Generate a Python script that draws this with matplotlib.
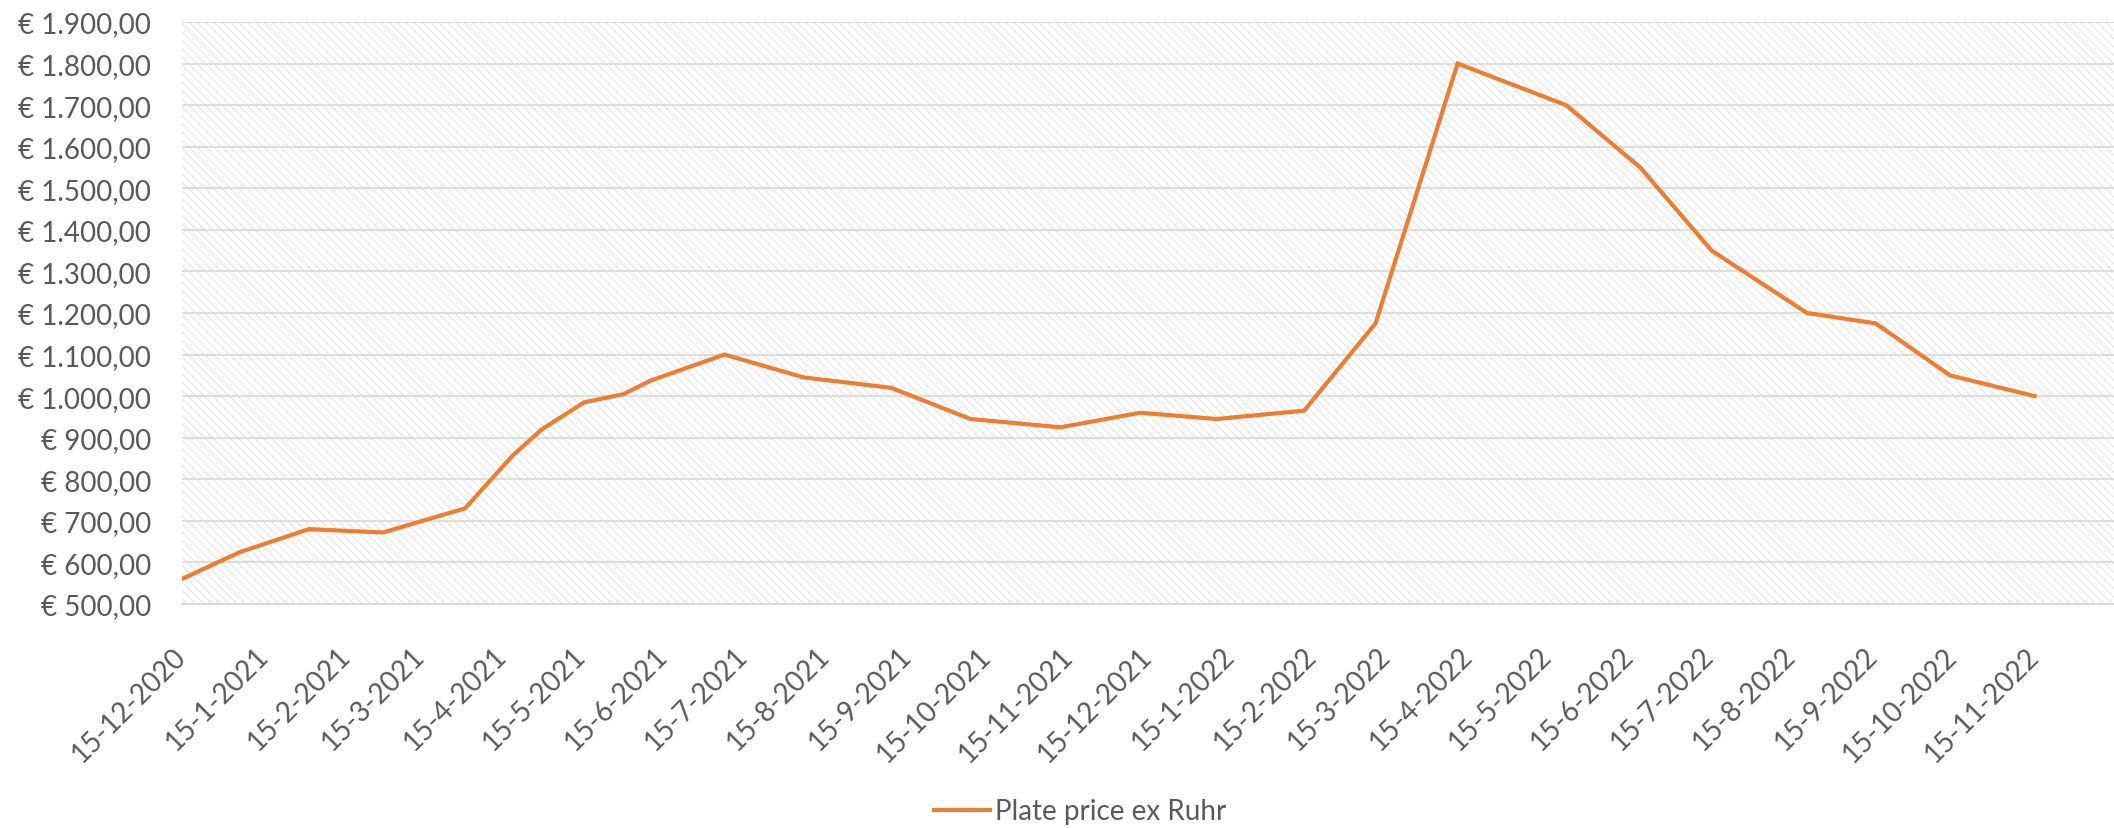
import matplotlib
matplotlib.use("Agg")
import matplotlib.pyplot as plt
from matplotlib.patches import Rectangle
from matplotlib.ticker import FuncFormatter
import pandas as pd

dates = ['2020-12-15', '2021-01-06', '2021-02-01', '2021-03-01', '2021-04-01',
         '2021-04-19', '2021-04-30', '2021-05-16', '2021-05-31', '2021-06-10',
         '2021-07-08', '2021-08-07', '2021-09-09', '2021-10-09', '2021-11-12',
         '2021-12-12', '2022-01-10', '2022-02-12', '2022-03-11', '2022-04-11',
         '2022-05-22', '2022-06-19', '2022-07-16', '2022-08-21', '2022-09-16',
         '2022-10-14', '2022-11-15']
prices = [560, 625, 680, 672, 730, 857, 920, 985, 1005, 1037,
          1100, 1045, 1020, 945, 925, 960, 945, 965, 1175, 1800,
          1700, 1550, 1350, 1200, 1175, 1050, 1000]
series_name = 'Plate price ex Ruhr'

tick_labels = ['15-12-2020', '15-1-2021', '15-2-2021', '15-3-2021', '15-4-2021',
               '15-5-2021', '15-6-2021', '15-7-2021', '15-8-2021', '15-9-2021',
               '15-10-2021', '15-11-2021', '15-12-2021', '15-1-2022', '15-2-2022',
               '15-3-2022', '15-4-2022', '15-5-2022', '15-6-2022', '15-7-2022',
               '15-8-2022', '15-9-2022', '15-10-2022', '15-11-2022']
y_ticks = [500, 600, 700, 800, 900, 1000, 1100, 1200, 1300, 1400,
           1500, 1600, 1700, 1800, 1900]

plt.rcParams['font.family'] = ['Lato', 'DejaVu Sans']
plt.rcParams['hatch.linewidth'] = 0.7
text_grey = '#595959'
grid_grey = '#d9d9d9'

x = pd.to_datetime(dates)
tick_pos = pd.to_datetime(tick_labels, format='%d-%m-%Y')

fig = plt.figure(figsize=(21.14, 8.29), dpi=100)
ax = fig.add_axes([0.086, 0.2702, 0.914, 0.7021])

# gearceerde achtergrond zoals in Excel
ax.add_patch(Rectangle((0, 0), 1, 1, transform=ax.transAxes, facecolor='white',
                       edgecolor='#e0e0e0', hatch='\\\\\\\\', linewidth=0, zorder=0))

ax.plot(x, prices, color='#ED7D31', linewidth=3.0, solid_joinstyle='miter',
        label=series_name, zorder=3)

ax.set_ylim(500, 1900)
ax.set_xlim(pd.Timestamp('2020-12-15'), pd.Timestamp('2022-12-15'))
ax.set_yticks(y_ticks)
ax.yaxis.set_major_formatter(FuncFormatter(
    lambda v, p: '€ ' + f'{v:,.2f}'.replace(',', 'X').replace('.', ',').replace('X', '.')))
ax.set_xticks(tick_pos)
ax.set_xticklabels(tick_labels, rotation=45, ha='right', va='center',
                   rotation_mode='anchor')

ax.grid(axis='y', color=grid_grey, linewidth=1.2, zorder=1)
ax.set_axisbelow(True)
for s in ['top', 'right', 'left']:
    ax.spines[s].set_visible(False)
ax.spines['bottom'].set_color(grid_grey)
ax.spines['bottom'].set_linewidth(1.5)
ax.tick_params(axis='y', length=0, pad=22, labelsize=20, labelcolor=text_grey)
ax.tick_params(axis='x', length=0, pad=34, labelsize=20, labelcolor=text_grey)

fig.legend(loc='center', bbox_to_anchor=(0.511, 0.02), frameon=False,
           fontsize=20, labelcolor=text_grey, handlelength=2.0, handletextpad=0.2)

fig.savefig('out.png', dpi=100)
